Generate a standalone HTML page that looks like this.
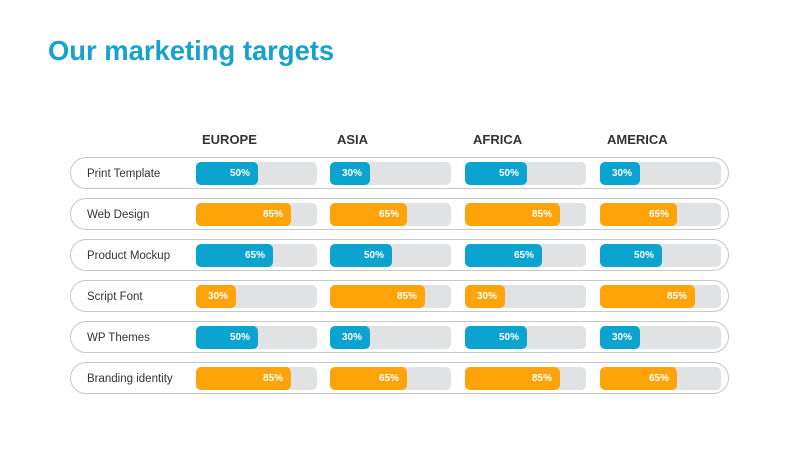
<!DOCTYPE html>
<html><head><style>
body{margin:0;width:800px;height:450px;background:#fff;font-family:"Liberation Sans",Arial,sans-serif;position:relative;overflow:hidden}
.t{position:absolute;left:48px;top:35px;font-size:27.4px;font-weight:bold;color:#17a2cc}
.h{position:absolute;top:132px;font-size:13px;font-weight:bold;color:#333}
.row{position:absolute;left:70px;width:657px;height:30px;border:1px solid #c8c8c8;border-radius:16px;box-sizing:content-box}
.lab{position:absolute;left:16px;top:10px;font-size:11.5px;color:#333}
.tr{position:absolute;top:4px;width:121px;height:23px;background:#e1e2e4;border-radius:5px}
.f{position:absolute;left:0;top:0;height:23px;border-radius:5px;color:#fff;font-size:10px;font-weight:bold;text-align:right;box-sizing:border-box;padding-right:8px;line-height:24px}
.b{background:#0ba3cf}.o{background:#fea30a}
</style></head><body>
<div class="t">Our marketing targets</div>
<div class="h" style="left:202px">EUROPE</div>
<div class="h" style="left:337px">ASIA</div>
<div class="h" style="left:473px">AFRICA</div>
<div class="h" style="left:607px">AMERICA</div>
<div id="rows"></div>
<script>
var W={30:40,50:62,65:77,85:95};
var data=[["Print Template","b",[50,30,50,30]],["Web Design","o",[85,65,85,65]],["Product Mockup","b",[65,50,65,50]],["Script Font","o",[30,85,30,85]],["WP Themes","b",[50,30,50,30]],["Branding identity","o",[85,65,85,65]]];
var xs=[125,259,394,529],h="";
data.forEach(function(d,i){var top=157+i*41;h+='<div class="row" style="top:'+top+'px"><div class="lab">'+d[0]+'</div>';
d[2].forEach(function(v,j){h+='<div class="tr" style="left:'+xs[j]+'px"><div class="f '+d[1]+'" style="width:'+W[v]+'px">'+v+'%</div></div>';});h+='</div>';});
document.getElementById("rows").innerHTML=h;
</script>
</body></html>
